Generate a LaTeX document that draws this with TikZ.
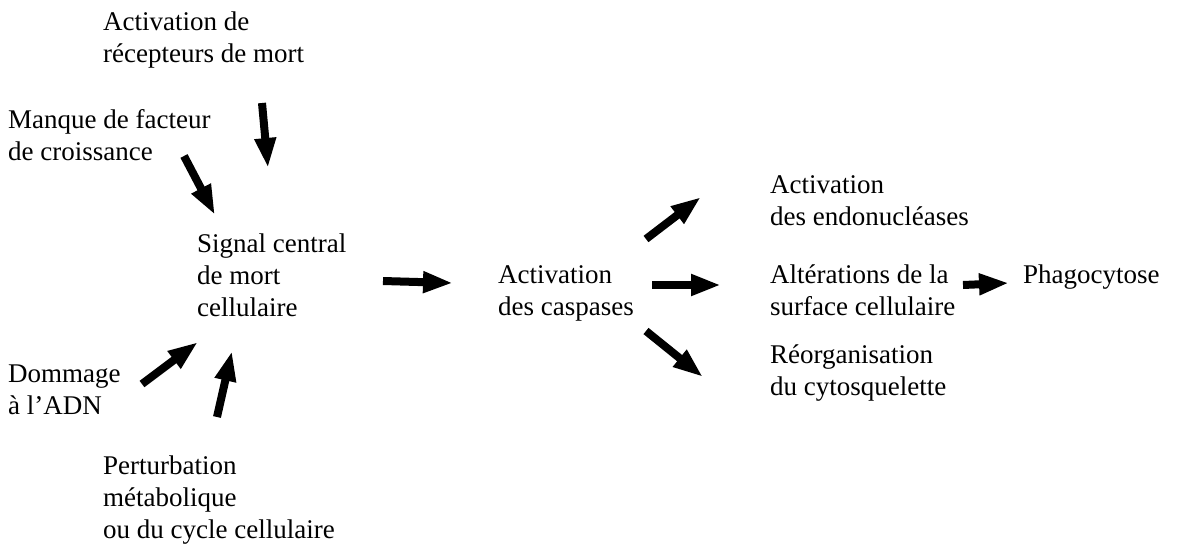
\documentclass[tikz,border=0pt]{standalone}
\usepackage{fontspec}
\setmainfont{Liberation Serif}
\usetikzlibrary{arrows.meta}
\tikzset{
  lbl/.style={anchor=north west, inner sep=0pt, align=left, font=\fontsize{27}{32}\selectfont},
  fat/.style={line width=8pt, -{Triangle[length=30pt,width=20pt]}, shorten >=0pt}
}
\begin{document}
\begin{tikzpicture}[x=1pt,y=-1pt]
\useasboundingbox (0,0) rectangle (1201,549);
% text nodes
\node[lbl] (rec) at (103,12) {Activation de\\récepteurs de mort};
\node[lbl] (fac) at (8,109) {Manque de facteur\\de croissance};
\node[lbl] (sig) at (197,234) {Signal central\\de mort\\cellulaire};
\node[lbl] (casp) at (498,265) {Activation\\des caspases};
\node[lbl] (endo) at (770,175) {Activation\\des endonucléases};
\node[lbl] (surf) at (770,265) {Altérations de la\\surface cellulaire};
\node[lbl] (phag) at (1023,265) {Phagocytose};
\node[lbl] (cyto) at (770,345) {Réorganisation\\du cytosquelette};
\node[lbl] (adn) at (8,365) {Dommage\\à l’ADN};
\node[lbl] (pert) at (103,456) {Perturbation\\métabolique\\ou du cycle cellulaire};
% arrow endpoints
\coordinate (a1s) at (262,103); \coordinate (a1e) at (268,168);
\coordinate (a2s) at (184,156); \coordinate (a2e) at (215,215);
\coordinate (a3s) at (142,384); \coordinate (a3e) at (198,342);
\coordinate (a4s) at (217,417); \coordinate (a4e) at (232,351);
\coordinate (a5s) at (383,281); \coordinate (a5e) at (453,283);
\coordinate (a6s) at (646,239); \coordinate (a6e) at (701,197);
\coordinate (a7s) at (652,285); \coordinate (a7e) at (721,285);
\coordinate (a8s) at (646,331); \coordinate (a8e) at (703,377);
\coordinate (a9s) at (963,285); \coordinate (a9e) at (1009,283);
\draw[fat] (a1s) -- (a1e);
\draw[fat] (a2s) -- (a2e);
\draw[fat] (a3s) -- (a3e);
\draw[fat] (a4s) -- (a4e);
\draw[fat] (a5s) -- (a5e);
\draw[fat] (a6s) -- (a6e);
\draw[fat] (a7s) -- (a7e);
\draw[fat] (a8s) -- (a8e);
\draw[fat] (a9s) -- (a9e);
\end{tikzpicture}
\end{document}
